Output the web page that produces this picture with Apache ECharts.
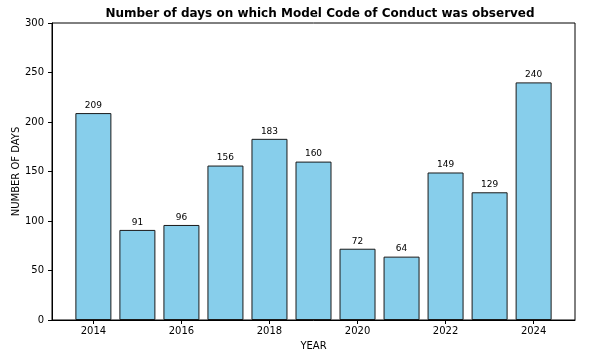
<!DOCTYPE html>
<html><head><meta charset="utf-8">
<script src="https://cdn.jsdelivr.net/npm/echarts@6/dist/echarts.min.js"></script>
<style>html,body{margin:0;padding:0;background:#fff}#c{width:596px;height:357px}</style>
</head><body><div id="c"></div>
<script>
const years = [2014, 2015, 2016, 2017, 2018, 2019, 2020, 2021, 2022, 2023, 2024];
const days = [209, 91, 96, 156, 183, 160, 72, 64, 149, 129, 240];
const xTicks = [2014, 2016, 2018, 2020, 2022, 2024];
const yTicks = [0, 50, 100, 150, 200, 250, 300];

const font = 'DejaVu Sans';
const chart = echarts.init(document.getElementById('c'));
chart.setOption({
  animation: false,
  title: {
    text: 'Number of days on which Model Code of Conduct was observed',
    left: 315, top: 3, textAlign: 'center',
    textStyle: {fontFamily: font, fontSize: 12, fontWeight: 'bold', color: '#000'}
  },
  grid: {left: 52, right: 21, top: 23, bottom: 37, show: true, borderColor: '#000', borderWidth: 1,
         backgroundColor: 'transparent', containLabel: false, outerBoundsMode: 'none'},
  xAxis: {
    type: 'value', min: 2013.06, max: 2024.94,
    name: 'YEAR', nameLocation: 'middle', nameGap: 21, nameMoveOverlap: false,
    nameTextStyle: {fontFamily: font, fontSize: 10, color: '#000'},
    axisLine: {show: true, lineStyle: {color: '#000'}},
    axisTick: {show: true, length: 4, lineStyle: {color: '#000'}, customValues: xTicks},
    axisLabel: {fontFamily: font, fontSize: 10, color: '#000', margin: 6, customValues: xTicks, formatter: v => String(v)},
    splitLine: {show: false}
  },
  yAxis: {
    type: 'value', min: 0, max: 300, interval: 50,
    name: 'NUMBER OF DAYS', nameLocation: 'middle', nameGap: 31, nameMoveOverlap: false,
    nameTextStyle: {fontFamily: font, fontSize: 10, color: '#000'},
    axisLine: {show: true, lineStyle: {color: '#000'}},
    axisTick: {show: true, length: 4, lineStyle: {color: '#000'}},
    axisLabel: {fontFamily: font, fontSize: 10, color: '#000', margin: 8, customValues: yTicks},
    splitLine: {show: false}
  },
  series: [{
    type: 'bar',
    data: years.map((y, i) => [y, days[i]]),
    barWidth: 36,
    itemStyle: {color: '#87CEEB', borderColor: '#1a1a1a', borderWidth: 1},
    label: {show: true, position: 'top', distance: 3, fontFamily: font, fontSize: 9, color: '#000'}
  }]
});
</script></body></html>
